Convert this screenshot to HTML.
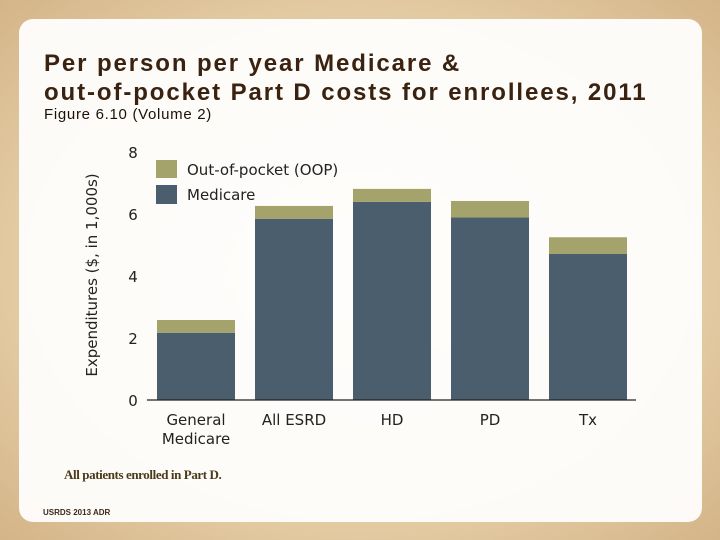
<!DOCTYPE html>
<html><head><meta charset="utf-8">
<style>
body{margin:0;width:720px;height:540px;overflow:hidden;font-family:"Liberation Sans",sans-serif;}
#bg{position:absolute;left:0;top:0;width:720px;height:540px;background:radial-gradient(ellipse at 50% 50%,#efe0c4 0%,#e2c9a0 70%,#d4b488 100%);}
#panel{position:absolute;left:19px;top:19px;width:683px;height:503px;border-radius:14px;background:rgba(255,255,255,0.93);}
.t{position:absolute;color:#3a2210;white-space:nowrap;}
</style></head><body>
<div id="bg"></div>
<div id="panel"></div>
<div class="t" style="left:44px;top:49px;font-size:24px;font-weight:bold;line-height:29px;letter-spacing:1.9px;">Per person per year Medicare &amp;<br>out-of-pocket Part D costs for enrollees, 2011</div>
<div class="t" style="left:44px;top:106px;font-size:15px;letter-spacing:0.7px;color:#1a1208;">Figure 6.10 (Volume 2)</div>
<div class="t" style="left:64px;top:467px;font-size:13px;font-weight:bold;font-family:'Liberation Serif',serif;color:#4a3a1a;letter-spacing:-0.4px;">All patients enrolled in Part D.</div>
<div class="t" style="left:43px;top:508px;font-size:8px;font-weight:bold;color:#3a2a1a;">USRDS 2013 ADR</div>
<svg id="chart" width="720" height="540" style="position:absolute;left:0;top:0;font-family:'DejaVu Sans',sans-serif;">
<text transform="translate(97,275) rotate(-90)" text-anchor="middle" font-size="15" fill="#222">Expenditures ($, in 1,000s)</text>
<rect x="156" y="160" width="21" height="18" fill="#a3a36b"/>
<text x="187" y="175" font-size="15" fill="#222">Out-of-pocket (OOP)</text>
<rect x="156" y="185" width="21" height="19" fill="#4a5e6e"/>
<text x="187" y="200" font-size="15" fill="#222">Medicare</text>
</svg>
<script>
const categories=[["General","Medicare"],["All ESRD"],["HD"],["PD"],["Tx"]];
const medicare=[2.17,5.84,6.39,5.89,4.71];
const oop=[0.41,0.42,0.42,0.53,0.54];
const yTicks=[0,2,4,6,8];
const svg=document.getElementById('chart');
const NS='http://www.w3.org/2000/svg';
const y=v=>400-v*31;
const x=i=>157+i*98;
const bw=78;
function mk(t,a){const e=document.createElementNS(NS,t);for(const k in a)e.setAttribute(k,a[k]);svg.appendChild(e);return e;}
yTicks.forEach(v=>{const t=mk('text',{x:133,y:y(v)+6,'text-anchor':'middle','font-size':15,fill:'#222'});t.textContent=v;

});
categories.forEach((c,i)=>{
const m=mk('rect',{x:x(i),y:y(medicare[i]),width:bw,height:y(0)-y(medicare[i]),fill:'#4a5e6e'});


const o=mk('rect',{x:x(i),y:y(medicare[i]+oop[i]),width:bw,height:y(medicare[i])-y(medicare[i]+oop[i]),fill:'#a3a36b'});


c.forEach((l,j)=>{const t=mk('text',{x:x(i)+bw/2,y:425+j*19,'text-anchor':'middle','font-size':15,fill:'#222'});t.textContent=l;

});
});
const ax=mk('line',{x1:147,x2:636,y1:400,y2:400,stroke:'#222','stroke-width':1.2});


</script>
</body></html>
